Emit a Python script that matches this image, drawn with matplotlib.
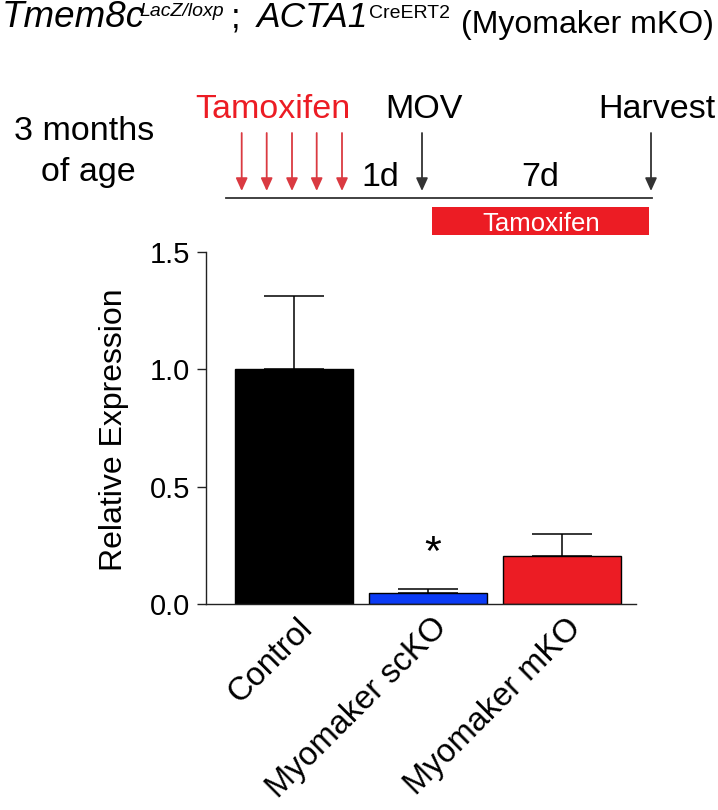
import matplotlib
matplotlib.use("Agg")
import matplotlib.pyplot as plt
import matplotlib.transforms as mtransforms
from matplotlib.patches import Rectangle
import numpy as np

plt.rcParams['font.family'] = ['Liberation Sans', 'DejaVu Sans']

# --- data ---
groups = ["Control", "Myomaker scKO", "Myomaker mKO"]
means = [1.00, 0.048, 0.205]
sems = [0.313, 0.017, 0.093]
significant = [False, True, False]
bar_colors = ["#000000", "#0B3BF5", "#EC1C24"]
y_ticks = [0.0, 0.5, 1.0, 1.5]

RED = "#EC1C24"
ARROW_RED = "#DA3A41"
DARK = "#333333"

W, H = 718, 810
fig = plt.figure(figsize=(W / 100, H / 100), dpi=100)

# overlay in pixel coordinates for the schematic / title
ax_t = fig.add_axes([0, 0, 1, 1])
ax_t.set_xlim(0, W)
ax_t.set_ylim(H, 0)
ax_t.axis("off")

# --- bar panel ---
ax = fig.add_axes([206 / W, 1 - 604 / H, 430 / W, 352 / H])
x = np.arange(len(groups))
ax.bar(x, means, width=0.88, color=bar_colors, edgecolor="black", linewidth=1.0, zorder=2)
ax.errorbar(x, means, yerr=[np.zeros(len(sems)), sems], fmt="none", ecolor="black",
            elinewidth=1.1, capsize=21.6, capthick=1.1, zorder=3)

for i, sig in enumerate(significant):
    if sig:
        ax.annotate("*", xy=(x[i], means[i] + sems[i]), xytext=(3, 17),
                    textcoords="offset points", ha="center", va="baseline", fontsize=31)

ax.set_xlim(-0.657, 2.552)
ax.set_ylim(0, 1.5)
ax.set_yticks(y_ticks)
ax.set_yticklabels([f"{v:.1f}" for v in y_ticks])
ax.set_xticks(x)
ax.set_xticklabels(groups)
for s in ["top", "right"]:
    ax.spines[s].set_visible(False)
for s in ["left", "bottom"]:
    ax.spines[s].set_linewidth(1.0)
    ax.spines[s].set_color("#222222")
ax.tick_params(axis="y", length=6.5, width=1.0, labelsize=21, pad=5, color="#222222")
ax.tick_params(axis="x", length=0, labelsize=23.5, pad=6)
shift = mtransforms.ScaledTranslation(3 / 100, 0, fig.dpi_scale_trans)
for lab in ax.get_xticklabels():
    lab.set_rotation(45)
    lab.set_ha("right")
    lab.set_rotation_mode("anchor")
    lab.set_transform(lab.get_transform() + shift)

ax_t.text(114, 430, "Relative Expression", rotation=90, ha="center", va="center", fontsize=23)

# --- title, piece by piece ---
ax_t.text(2, 27, "Tmem8c", fontsize=26.5, style="italic", va="baseline")
ax_t.text(139, 16, "LacZ/loxp", fontsize=14, style="italic", va="baseline")
ax_t.text(231, 27, ";", fontsize=25, va="baseline")
ax_t.text(257, 27, "ACTA1", fontsize=25.5, style="italic", va="baseline")
ax_t.text(369, 18, "CreERT2", fontsize=14, va="baseline")
ax_t.text(461, 33, "(Myomaker mKO)", fontsize=23, va="baseline")

# --- timeline schematic ---
ax_t.plot([226, 652], [197.7, 197.7], color=DARK, lw=1.3)
inject_x = [241.7, 266.7, 292, 316.7, 342]
for xa in inject_x:
    ax_t.annotate("", xy=(xa, 191), xytext=(xa, 133),
                  arrowprops=dict(arrowstyle="-|>,head_length=0.55,head_width=0.25",
                                  mutation_scale=14, color=ARROW_RED, lw=1.3,
                                  shrinkA=0, shrinkB=0))
for xa in [422, 651]:
    ax_t.annotate("", xy=(xa, 191), xytext=(xa, 133),
                  arrowprops=dict(arrowstyle="-|>,head_length=0.55,head_width=0.25",
                                  mutation_scale=14, color=DARK, lw=1.3,
                                  shrinkA=0, shrinkB=0))

fs = 24.5
ax_t.text(84.5, 140, "3 months", fontsize=fs, ha="center", va="baseline")
ax_t.text(88, 181, "of age", fontsize=fs, ha="center", va="baseline")
ax_t.text(272.6, 118, "Tamoxifen", fontsize=fs, ha="center", va="baseline", color=RED)
ax_t.text(423.5, 118, "MOV", fontsize=fs, ha="center", va="baseline")
ax_t.text(657, 118, "Harvest", fontsize=fs, ha="center", va="baseline")
ax_t.text(380.5, 186, "1d", fontsize=fs, ha="center", va="baseline")
ax_t.text(540.5, 186, "7d", fontsize=fs, ha="center", va="baseline")

ax_t.add_patch(Rectangle((432, 207), 217, 28, color=RED, lw=0))
ax_t.text(541, 231, "Tamoxifen", fontsize=18.5, ha="center", va="baseline", color="white")

fig.savefig("out.png", dpi=100)
